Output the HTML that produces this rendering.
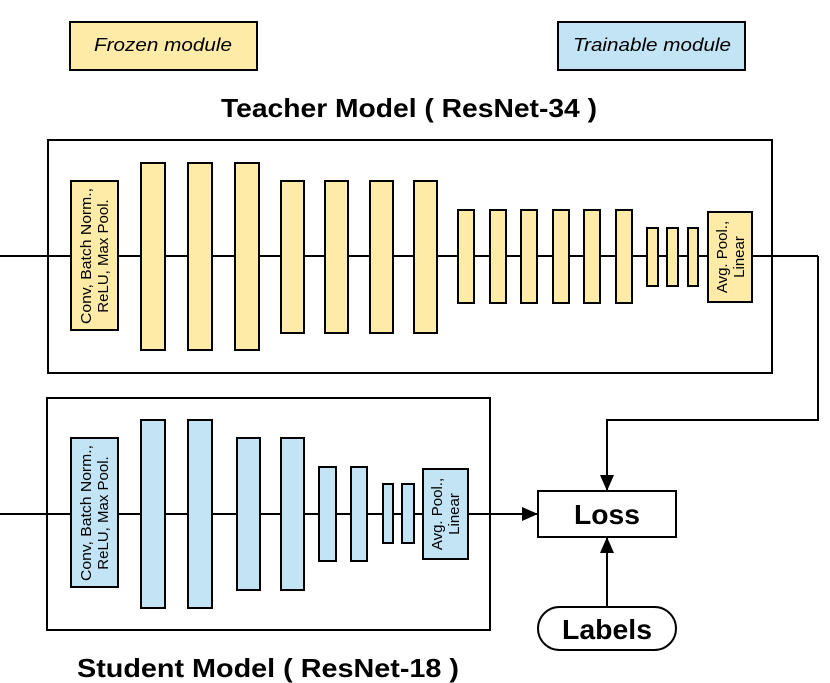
<!DOCTYPE html>
<html><head><meta charset="utf-8"><style>html,body{margin:0;padding:0;background:#fff}svg{display:block}</style></head>
<body>
<svg width="830" height="683" viewBox="0 0 830 683" xmlns="http://www.w3.org/2000/svg" font-family="Liberation Sans, sans-serif">
<defs>
<marker id="ah2" markerWidth="16" markerHeight="14" refX="15" refY="7" orient="auto" markerUnits="userSpaceOnUse"><path d="M0,0 L16,7 L0,14 Z" fill="#000"/></marker></defs>
<g stroke="#000" stroke-width="2">
<rect x="70" y="22" width="187" height="48" fill="#FFEBA8"/>
<rect x="558" y="22" width="187" height="48" fill="#C2E4F5"/>
</g>
<text x="163" y="51" font-size="18" font-style="italic" text-anchor="middle" textLength="138" lengthAdjust="spacingAndGlyphs">Frozen module</text>
<text x="652" y="51" font-size="18" font-style="italic" text-anchor="middle" textLength="158" lengthAdjust="spacingAndGlyphs">Trainable module</text>
<text x="409" y="117" font-size="26" font-weight="bold" text-anchor="middle" textLength="376" lengthAdjust="spacingAndGlyphs">Teacher Model ( ResNet-34 )</text>
<text x="268" y="677" font-size="26" font-weight="bold" text-anchor="middle" textLength="382" lengthAdjust="spacingAndGlyphs">Student Model ( ResNet-18 )</text>
<g stroke="#000" stroke-width="2" fill="none">
<rect x="48" y="140" width="724" height="233"/>
<rect x="47" y="398" width="443" height="232"/>
<line x1="0" y1="256" x2="818" y2="256"/>
<polyline points="818,256 818,420 607,420 607,490" marker-end="url(#ah2)"/>
<line x1="0" y1="514" x2="537" y2="514" marker-end="url(#ah2)"/>
<line x1="607" y1="607" x2="607" y2="538" marker-end="url(#ah2)"/>
</g>
<g stroke="#000" stroke-width="2" fill="#FFEBA8">
<rect x="71" y="181" width="47" height="149"/>
<rect x="141" y="163" width="24" height="187"/><rect x="188" y="163" width="24" height="187"/><rect x="235" y="163" width="24" height="187"/>
<rect x="281" y="181" width="23" height="152"/><rect x="325" y="181" width="23" height="152"/><rect x="370" y="181" width="23" height="152"/><rect x="414" y="181" width="23" height="152"/>
<rect x="458" y="210" width="16" height="93"/><rect x="490" y="210" width="16" height="93"/><rect x="521" y="210" width="16" height="93"/><rect x="553" y="210" width="16" height="93"/><rect x="584" y="210" width="16" height="93"/><rect x="616" y="210" width="16" height="93"/>
<rect x="647" y="228" width="11" height="58"/><rect x="667" y="228" width="11" height="58"/><rect x="688" y="228" width="10" height="58"/>
<rect x="708" y="212" width="44" height="90"/>
</g>
<g stroke="#000" stroke-width="2" fill="#C2E4F5">
<rect x="71" y="438" width="47" height="149"/>
<rect x="141" y="420" width="24" height="188"/><rect x="188" y="420" width="24" height="188"/>
<rect x="237" y="438" width="23" height="152"/><rect x="281" y="438" width="23" height="152"/>
<rect x="319" y="467" width="17" height="94"/><rect x="351" y="467" width="16" height="94"/>
<rect x="383" y="484" width="10" height="59"/><rect x="402" y="484" width="12" height="59"/>
<rect x="423" y="469" width="45" height="90"/>
</g>
<g font-size="15" text-anchor="middle">
<text transform="translate(94,256) rotate(-90)"><tspan x="0" y="-3" textLength="136" lengthAdjust="spacingAndGlyphs">Conv, Batch Norm.,</tspan><tspan x="0" y="14">ReLU, Max Pool.</tspan></text>
<text transform="translate(730,257) rotate(-90)"><tspan x="0" y="-3">Avg. Pool.,</tspan><tspan x="0" y="14">Linear</tspan></text>
<text transform="translate(94,513) rotate(-90)"><tspan x="0" y="-3" textLength="136" lengthAdjust="spacingAndGlyphs">Conv, Batch Norm.,</tspan><tspan x="0" y="14">ReLU, Max Pool.</tspan></text>
<text transform="translate(445,514) rotate(-90)"><tspan x="0" y="-3">Avg. Pool.,</tspan><tspan x="0" y="14">Linear</tspan></text>
</g>
<rect x="538" y="491" width="138" height="46" fill="#fff" stroke="#000" stroke-width="2"/>
<text x="607" y="524" font-size="28" font-weight="bold" text-anchor="middle" textLength="66" lengthAdjust="spacingAndGlyphs">Loss</text>
<rect x="538" y="607" width="138" height="43" rx="21.5" fill="#fff" stroke="#000" stroke-width="2"/>
<text x="607" y="639" font-size="28" font-weight="bold" text-anchor="middle" textLength="90" lengthAdjust="spacingAndGlyphs">Labels</text>
</svg>
</body></html>
